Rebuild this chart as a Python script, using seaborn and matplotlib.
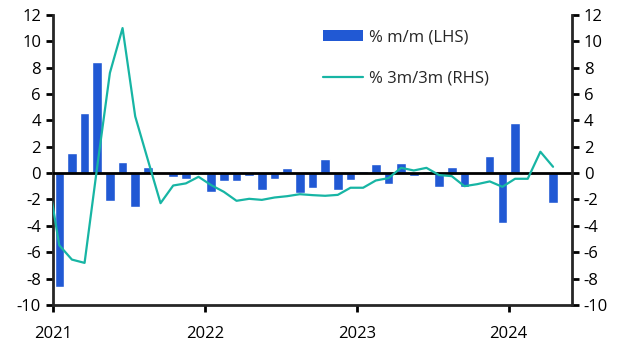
import numpy as np
import pandas as pd
import matplotlib
matplotlib.use("Agg")
import matplotlib.pyplot as plt
import seaborn as sns
from matplotlib.patches import Patch
from matplotlib.lines import Line2D

# monthly % m/m (LHS), Jan 2021 .. Apr 2024
mm_change = [
    -8.63, 1.52, 4.56, 8.43, -2.13, 0.84, -2.58, 0.46, 0.05, -0.30, -0.46, -0.05,
    -1.44, -0.58, -0.58, -0.20, -1.27, -0.43, 0.38, -1.49, -1.11, 1.06, -1.27, -0.51,
    0.15, 0.68, -0.81, 0.76, -0.20, 0.15, -1.04, 0.46, -1.04, 0.03, 1.29, -3.77,
    3.80, 0.03, 0.03, -2.25,
]
# % 3m/3m (RHS), Dec 2020 .. Apr 2024
three_m_change = [
    0.35,
    -5.47, -6.56, -6.81, 0.50, 7.60, 11.0, 4.30, 1.00, -2.28, -0.94, -0.78, -0.28,
    -0.91, -1.42, -2.10, -1.95, -2.03, -1.85, -1.75, -1.60, -1.67, -1.72, -1.65, -1.11,
    -1.11, -0.56, -0.38, 0.40, 0.20, 0.40, -0.15, -0.23, -0.99, -0.84, -0.63, -1.04,
    -0.43, -0.43, 1.62, 0.48,
]
year_labels = ["2021", "2022", "2023", "2024"]

BAR_COL = "#2159D4"
LINE_COL = "#17B5A4"

# x in months since Jan 2021, marks sit mid-month
bars = pd.DataFrame({"month": np.arange(len(mm_change)) + 0.5, "value": mm_change})
line = pd.DataFrame({"month": np.arange(len(three_m_change)) - 0.5, "value": three_m_change})

sns.set_style("ticks")
plt.rcParams["font.family"] = ["Open Sans", "DejaVu Sans"]
plt.rcParams["axes.unicode_minus"] = False

fig, ax = plt.subplots(figsize=(6.3, 3.55), dpi=100)
fig.subplots_adjust(left=0.084, right=0.908, bottom=0.141, top=0.958)

sns.barplot(data=bars, x="month", y="value", native_scale=True, width=0.75,
            color=BAR_COL, saturation=1, errorbar=None, ax=ax)
ax.axhline(0, color="black", lw=2, zorder=3)

ax2 = ax.twinx()
sns.lineplot(data=line, x="month", y="value", color=LINE_COL, lw=1.6, ax=ax2)

for a in (ax, ax2):
    a.set_ylim(-10, 12)
    a.set_yticks(np.arange(-10, 13, 2))
    a.set_xlim(0, 41)
    a.set_xlabel("")
    a.set_ylabel("")
    a.spines["top"].set_visible(False)
    a.tick_params(axis="both", direction="out", length=5, width=2, labelsize=12, colors="black")
    for s in a.spines.values():
        s.set_linewidth(2)

ax.spines["right"].set_visible(False)
ax2.spines["left"].set_visible(False)
ax2.spines["bottom"].set_visible(False)

ax.set_xticks([0, 12, 24, 36])
ax.set_xticklabels(year_labels)
ax.tick_params(axis="x", pad=10)

handles = [Patch(facecolor=BAR_COL, edgecolor="none"),
           Line2D([0], [0], color=LINE_COL, lw=1.6)]
ax2.legend(handles, ["% m/m (LHS)", "% 3m/3m (RHS)"], loc="upper left",
           bbox_to_anchor=(0.498, 0.99), frameon=False, fontsize=12,
           handlelength=2.4, handleheight=0.6, handletextpad=0.35, labelspacing=1.5,
           borderpad=0.2)

plt.savefig("out.png", dpi=100)
plt.close()
